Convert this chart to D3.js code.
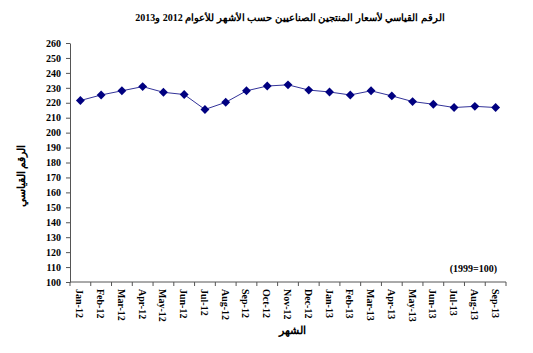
<!DOCTYPE html>
<html>
<head>
<meta charset="utf-8">
<script src="https://cdn.jsdelivr.net/npm/d3@7"></script>
<style>
  body { margin: 0; background: #fff; }
  svg text { font-family: "Liberation Serif", "Times New Roman", serif; font-weight: bold; }
</style>
</head>
<body>
<div id="chart"></div>
<script>
// chart data
var months = ["Jan-12", "Feb-12", "Mar-12", "Apr-12", "May-12", "Jun-12", "Jul-12", "Aug-12",
  "Sep-12", "Oct-12", "Nov-12", "Dec-12", "Jan-13", "Feb-13", "Mar-13", "Apr-13", "May-13",
  "Jun-13", "Jul-13", "Aug-13", "Sep-13"];
var indexValues = [221.5, 225.2, 228, 230.8, 227, 225.5, 215.5, 220.3, 228, 231.2, 232,
  228.5, 227.2, 225.2, 228, 224.6, 220.8, 219, 216.8, 217.6, 216.8];
var yTicks = d3.range(100, 261, 10);

var w = 533, h = 353;
var margin = { left: 70, right: 27, top: 43, bottom: 71 };

var svg = d3.select("#chart").append("svg")
  .attr("width", w)
  .attr("height", h);

var xScale = d3.scaleBand()
  .domain(months)
  .range([margin.left, w - margin.right]);

var yScale = d3.scaleLinear()
  .domain([100, 260])
  .range([h - margin.bottom, margin.top]);

// y axis
var yAxis = d3.axisLeft(yScale).tickValues(yTicks).tickSize(4).tickSizeOuter(0);
var gy = svg.append("g")
  .attr("transform", "translate(" + margin.left + ",0)")
  .call(yAxis);
gy.select(".domain").attr("stroke", "#555");
gy.selectAll(".tick line").attr("stroke", "#555");
gy.selectAll(".tick text").attr("font-size", 10).attr("fill", "#000").attr("dx", "-2");

// x axis: baseline + ticks at the category boundaries
var gx = svg.append("g").attr("transform", "translate(0," + yScale(100) + ")");
gx.append("line")
  .attr("x1", xScale.range()[0]).attr("x2", xScale.range()[1])
  .attr("stroke", "#555");
gx.selectAll(".bound")
  .data(months.concat(["end"]))
  .enter().append("line")
  .attr("x1", function(d, i) { return xScale.range()[0] + i * xScale.step(); })
  .attr("x2", function(d, i) { return xScale.range()[0] + i * xScale.step(); })
  .attr("y1", 0).attr("y2", 4)
  .attr("stroke", "#555");
gx.selectAll(".lbl")
  .data(months)
  .enter().append("text")
  .attr("transform", function(d) {
    return "translate(" + (xScale(d) + xScale.bandwidth() / 2 - 4) + ",7) rotate(90)";
  })
  .attr("font-size", 10)
  .attr("text-anchor", "start")
  .text(function(d) { return d; });

// line and markers
var line = d3.line()
  .x(function(d, i) { return xScale(months[i]) + xScale.bandwidth() / 2; })
  .y(function(d) { return yScale(d); });

svg.append("path")
  .datum(indexValues)
  .attr("d", line)
  .attr("fill", "none")
  .attr("stroke", "#333399")
  .attr("stroke-width", 1);

svg.selectAll(".pt")
  .data(indexValues)
  .enter().append("path")
  .attr("d", d3.symbol().type(d3.symbolDiamond2).size(50))
  .attr("transform", function(d, i) {
    return "translate(" + (xScale(months[i]) + xScale.bandwidth() / 2) + "," + yScale(d) + ")";
  })
  .attr("fill", "#000080");

// titles
svg.append("text")
  .attr("x", 290).attr("y", 21)
  .attr("text-anchor", "middle")
  .attr("font-size", 10)
  .attr("direction", "rtl")
  .text("الرقم القياسي لأسعار المنتجين الصناعيين حسب الأشهر للأعوام 2012 و2013");

svg.append("text")
  .attr("transform", "translate(25,176) rotate(-90)")
  .attr("text-anchor", "middle")
  .attr("font-size", 11)
  .attr("direction", "rtl")
  .text("الرقم القياسي");

svg.append("text")
  .attr("x", 292).attr("y", 334)
  .attr("text-anchor", "middle")
  .attr("font-size", 11)
  .attr("direction", "rtl")
  .text("الشهر");

svg.append("text")
  .attr("x", 497).attr("y", 272)
  .attr("text-anchor", "end")
  .attr("font-size", 10)
  .text("(1999=100)");
</script>
</body>
</html>
